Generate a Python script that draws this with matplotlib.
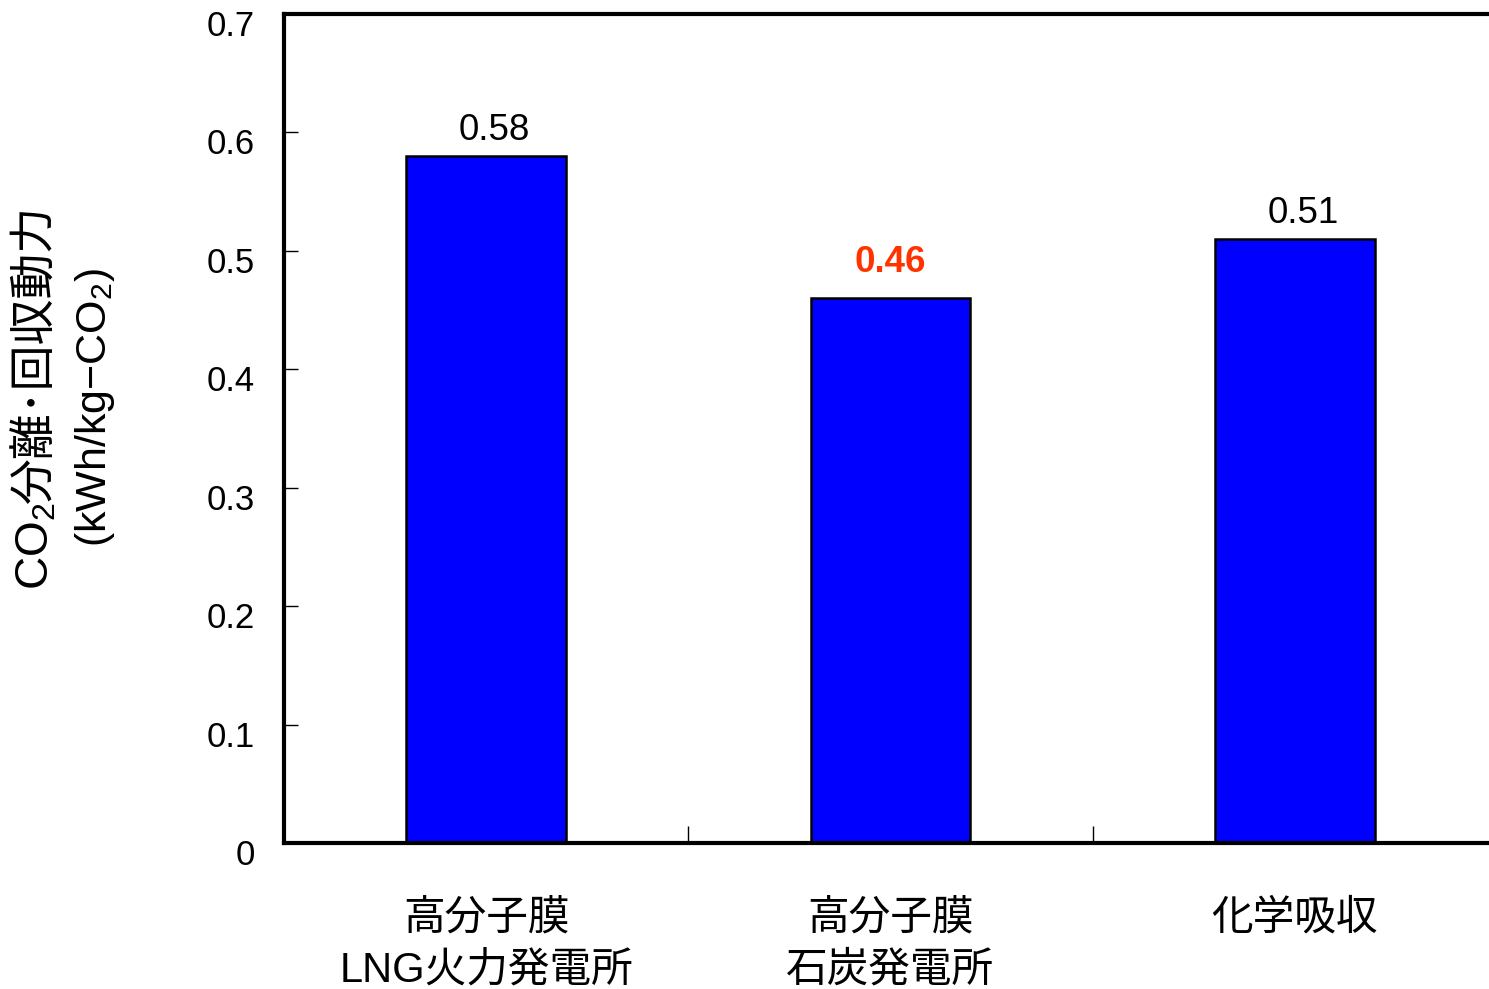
import matplotlib
matplotlib.use('Agg')
import matplotlib.pyplot as plt
import matplotlib.transforms as mtransforms
import numpy as np

# Latin text in an Arial-like face, kanji falls through to Noto CJK
plt.rcParams['font.family'] = ['Liberation Sans', 'Noto Sans CJK JP', 'DejaVu Sans']
plt.rcParams['mathtext.fontset'] = 'custom'
plt.rcParams['mathtext.rm'] = 'Liberation Sans'
plt.rcParams['mathtext.it'] = 'Liberation Sans'

# CO2 separation/capture power for each process
categories = ['高分子膜\nLNG火力発電所', '高分子膜\n石炭発電所', '化学吸収']
values = [0.58, 0.46, 0.51]
value_colors = ['black', '#FF3300', 'black']
value_weights = ['normal', 'bold', 'normal']
yticks = [0, 0.1, 0.2, 0.3, 0.4, 0.5, 0.6, 0.7]
ytick_labels = ['0', '0.1', '0.2', '0.3', '0.4', '0.5', '0.6', '0.7']

fig = plt.figure(figsize=(14.89, 9.89), dpi=100)
# right edge of the frame runs past the figure border
ax = fig.add_axes([284 / 1489, 1 - 843 / 989, (1497 - 284) / 1489, (843 - 14) / 989])

x = np.arange(len(values))
ax.bar(x, values, width=0.395, color='#0000FF', edgecolor='black', linewidth=1.8, zorder=2)

label_dy = [6, 13, 6]
label_dx = [6, 0, 6]
for xi, v, c, w, dx, dy in zip(x, values, value_colors, value_weights, label_dx, label_dy):
    ax.annotate(f'{v:.2f}', (xi, v), xytext=(dx, dy), textcoords='offset points',
                ha='center', va='bottom', fontsize=26.5, color=c, fontweight=w)

ax.set_xlim(-0.5, len(values) - 0.5)
ax.set_ylim(0, 0.7)

ax.set_yticks(yticks)
ax.set_yticklabels(ytick_labels, fontsize=25)
ax.tick_params(axis='y', direction='in', length=10, width=1, pad=21)
offset = mtransforms.ScaledTranslation(0, -9 / 100, fig.dpi_scale_trans)
for lab in ax.get_yticklabels():
    lab.set_transform(lab.get_transform() + offset)

# category labels centred, ticks on the boundaries between categories
ax.set_xticks(x)
ax.set_xticklabels(categories, fontsize=30, linespacing=1.38)
ax.tick_params(axis='x', which='major', length=0, pad=40)
ax.set_xticks([0.5, 1.5], minor=True)
ax.tick_params(axis='x', which='minor', direction='in', length=12, width=1)

for sp in ax.spines.values():
    sp.set_linewidth(3)
    sp.set_zorder(3)

# y label, first line: CO2 part (mathtext) followed by the kanji part
t_co2 = fig.text(37 / 1489, 1 - 590 / 989, r'CO$_\mathregular{2}$',
                 rotation=90, ha='center', va='bottom', fontsize=33)
ax.annotate('分離･回収動力', xy=(0.5, 1), xycoords=t_co2, xytext=(0, 0),
            textcoords='offset points', rotation=90, ha='center', va='bottom',
            fontsize=33, annotation_clip=False)
fig.text(95 / 1489, 1 - 407 / 989, r'(kWh/kg−CO$_\mathregular{2}$)',
         rotation=90, ha='center', va='center', fontsize=31)

fig.savefig('out.png', dpi=100, facecolor='white')
